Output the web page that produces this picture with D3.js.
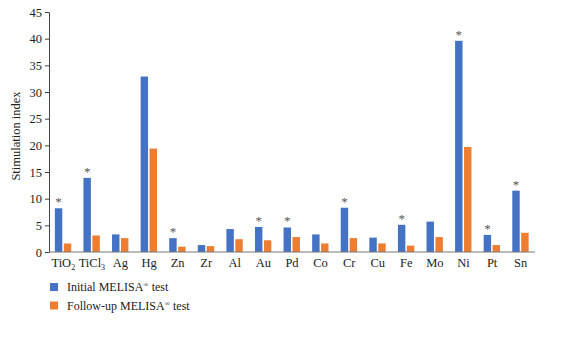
<!DOCTYPE html>
<html><head><meta charset="utf-8">
<script src="https://cdn.jsdelivr.net/npm/d3@7/dist/d3.min.js"></script>
<style>body{margin:0;background:#fff}svg{display:block}text{font-family:"Liberation Serif","DejaVu Serif",serif}</style>
</head><body><svg id="c" width="579" height="347"></svg>
<script>
const categories = ["TiO2","TiCl3","Ag","Hg","Zn","Zr","Al","Au","Pd","Co","Cr","Cu","Fe","Mo","Ni","Pt","Sn"];
const initialValues = [8.2,13.9,3.3,32.9,2.6,1.3,4.3,4.7,4.6,3.3,8.3,2.7,5.1,5.7,39.6,3.2,11.5];
const followupValues = [1.6,3.1,2.6,19.4,1.0,1.1,2.4,2.2,2.8,1.6,2.6,1.6,1.2,2.8,19.7,1.3,3.6];
const significant = ["TiO2","TiCl3","Zn","Au","Pd","Cr","Fe","Ni","Pt","Sn"];
const yTicks = [0,5,10,15,20,25,30,35,40,45];
const seriesNames = ["Initial MELISA", "Follow-up MELISA"];
const colors = ["#4472C4","#ED7D31"];
const FF = "Liberation Serif";

const svg = d3.select("#c");
const m = {l:49, r:44, t:12, b:95};
const W = 579, H = 347;
const x = d3.scaleBand().domain(categories).range([m.l, W-m.r]).paddingInner(0.48).paddingOuter(0.24);
const y = d3.scaleLinear().domain([0,45]).range([H-m.b, m.t]);

// y axis
const ya = svg.append("g").attr("transform",`translate(${m.l},0)`)
  .call(d3.axisLeft(y).tickValues(yTicks).tickSize(4).tickPadding(3));
ya.attr("font-family",FF);
ya.select(".domain").attr("stroke","#444");
ya.selectAll(".tick line").attr("stroke","#444");
ya.selectAll("text").attr("font-size",12.5).attr("fill","#222").attr("font-family",FF);

svg.append("text").attr("transform",`translate(20,${(y(0)+y(45))/2+4}) rotate(-90)`)
  .attr("text-anchor","middle").attr("font-size",12.5).attr("font-family",FF).attr("fill","#222").text("Stimulation index");

const sub = x.bandwidth()/2;
const g = svg.append("g");
categories.forEach((c,i)=>{
  g.append("rect").attr("x",x(c)-1).attr("width",sub).attr("y",y(initialValues[i]))
    .attr("height",y(0)-y(initialValues[i])).attr("fill",colors[0]);
  g.append("rect").attr("x",x(c)+sub+0.5).attr("width",sub).attr("y",y(followupValues[i]))
    .attr("height",y(0)-y(followupValues[i])).attr("fill",colors[1]);
  if(significant.includes(c)){
    g.append("text").attr("x",x(c)-1+sub/2).attr("y",y(initialValues[i])-2)
      .attr("text-anchor","middle").attr("font-size",13).attr("font-family",FF).attr("fill","#555").text("*");
  }
});

// x axis
svg.append("line").attr("x1",m.l).attr("x2",W-m.r).attr("y1",y(0)).attr("y2",y(0)).attr("stroke","#777").attr("stroke-width",1);
categories.forEach(c=>{
  const t = svg.append("text").attr("x",x(c)+x.bandwidth()/2).attr("y",y(0)+15)
    .attr("text-anchor","middle").attr("font-size",12.5).attr("font-family",FF).attr("fill","#222");
  const mm = c.match(/^([A-Za-z]+)(\d*)$/);
  t.append("tspan").text(mm[1]);
  if(mm[2]) t.append("tspan").attr("font-size",8).attr("dy",3).text(mm[2]);
});

// legend
seriesNames.forEach((n,i)=>{
  const ly = 283 + i*18.5;
  svg.append("rect").attr("x",50).attr("y",ly).attr("width",8).attr("height",8).attr("fill",colors[i]);
  const t = svg.append("text").attr("x",67).attr("y",ly+8).attr("font-size",12).attr("font-family",FF).attr("fill","#222");
  t.append("tspan").text(n);
  t.append("tspan").attr("font-size",7).attr("dy",-4).text("®");
  t.append("tspan").attr("dy",4).text(" test");
});
</script></body></html>
